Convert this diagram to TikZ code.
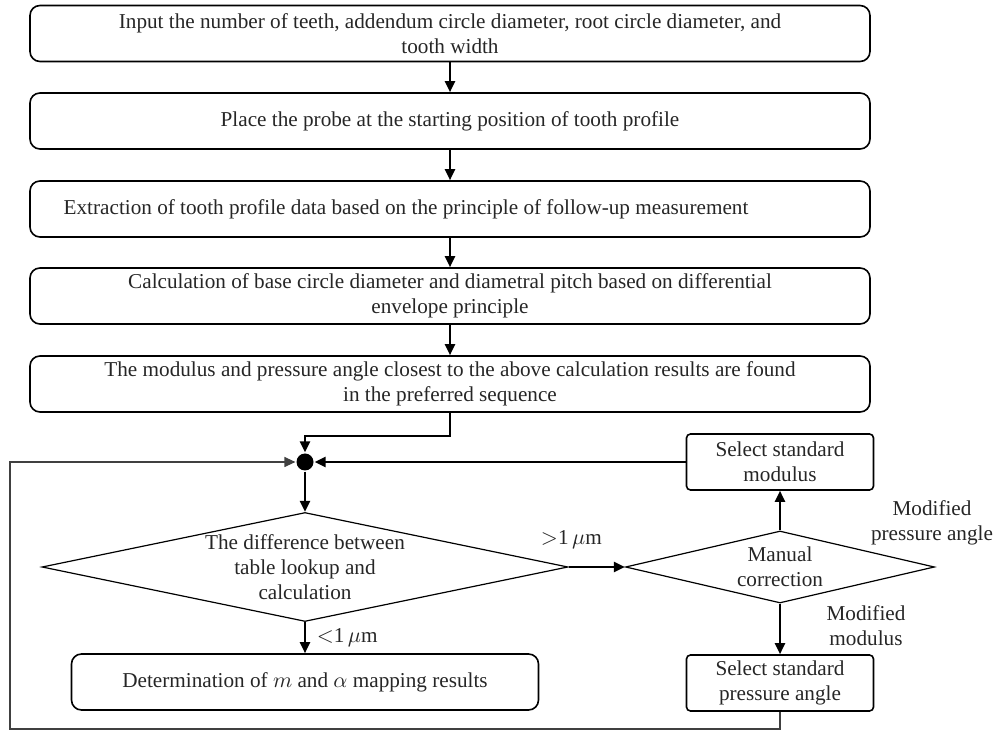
\documentclass[tikz,border=0pt]{standalone}
\usepackage{fontspec}
\setmainfont{Liberation Serif}
\usepackage{amsmath}
\usepackage{tikz}
\usetikzlibrary{calc,shapes.geometric,arrows.meta}

\begin{document}
\begin{tikzpicture}[
      x=0.5pt, y=-0.5pt,
      box/.style={
            rectangle, draw, rounded corners=5pt,
            line width=0.8pt, align=center,
            minimum width=420pt, minimum height=28pt,
            inner sep=2pt, text=black!85
        },
      small/.style={
            rectangle, draw, rounded corners=2pt,
            line width=0.8pt, align=center,
            minimum width=93.5pt, minimum height=28pt,
            inner sep=2pt, text=black!85
        },
      test/.style={
            diamond, draw, line width=0.6pt,
            align=center, inner sep=0pt, text=black!85
        },
      ->, >={Triangle[width=5pt,length=5.5pt]}, line width=1.1pt,
      font=\fontsize{10.6}{12.5}\selectfont
      ]
    \useasboundingbox (0,0) rectangle (996,731);

    \node[box] (A) at (450,33.5) {Input the number of teeth, addendum circle diameter, root circle diameter, and\\ tooth width};
    \node[box] (B) at (450,121) {Place the probe at the starting position of tooth profile};
    \node[box] (C) at (450,209) {Extraction of tooth profile data based on the principle of follow-up measurement\hspace*{44pt}};
    \node[box] (D) at (450,296) {Calculation of base circle diameter and diametral pitch based on differential\\ envelope principle};
    \node[box] (E) at (450,384) {The modulus and pressure angle closest to the above calculation results are found\\ in the preferred sequence};

    \node[circle, fill, inner sep=0pt, minimum size=8.5pt] (F) at (305,462) {};
    \node[test, minimum width=263pt, minimum height=54.5pt, shape aspect=4.8] (G) at (305,567) {The difference between\\ table lookup and\\ calculation};
    \node[box, minimum width=233.5pt] (H) at (305,682) {Determination of $m$ and $\alpha$ mapping results};
    \node[test, minimum width=154.5pt, minimum height=36pt, shape aspect=4.3] (I) at (780,567) {Manual\\ correction};
    \node[small] (J) at (780,462) {Select standard\\ modulus};
    \node[small] (K) at (780,683) {Select standard\\ pressure angle};

    \node[align=center, text=black!85] (P) at (932,523) {Modified\\ pressure angle};
    \node[align=center, text=black!85] (M) at (866,626) {Modified\\ modulus};
    \coordinate (L) at (10,729);

    \draw (A.south) -- (B.north);
    \draw (B.south) -- (C.north);
    \draw (C.south) -- (D.north);
    \draw (D.south) -- (E.north);
    \draw (E.south) -- ++(0,23) -| (F.north);
    \draw (F.south) -- (G.north);
    \draw (G.south) -- node[right, xshift=2pt, text=black!85] {$<$1\,$\mu$m} (H.north);
    \draw (G.east) -- node[pos=0.05, anchor=south, yshift=5pt, text=black!85] {$>$1\,$\mu$m} (I.west);
    \draw (I.north) -- (J.south);
    \draw (I.south) -- (K.north);
    \draw (J.west) -- (F.east);
    \draw[line width=0.6pt, black!75] (K.south) |- (L) |- (F.west);
  \end{tikzpicture}
\end{document}
